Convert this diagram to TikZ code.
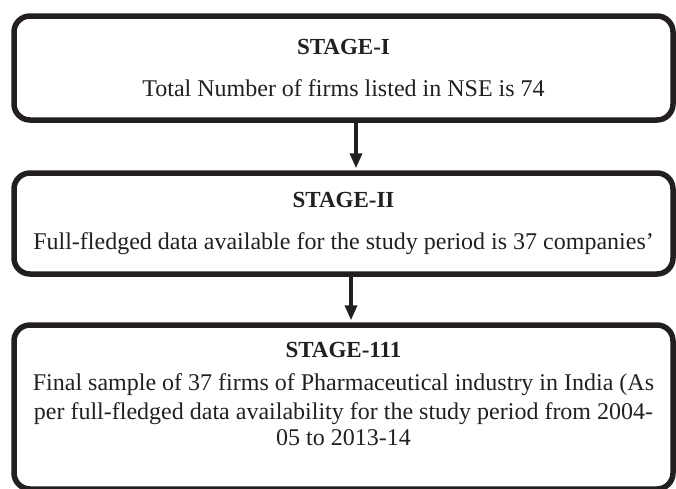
\documentclass[tikz,border=0pt]{standalone}
\usepackage{fontspec}
\setmainfont{Liberation Serif}
\usepackage{tikz}
\usetikzlibrary{arrows.meta,calc}
\definecolor{inkline}{RGB}{35,31,32}

\tikzset{
  stagebox/.style={draw=inkline, line width=5.5pt, rounded corners=16pt,
    minimum width=659pt, align=center, inner sep=0pt, text=inkline,
    font=\fontsize{24}{29}\selectfont},
  stagearrow/.style={draw=inkline, line width=3.5pt,
    -{Triangle[length=15pt,width=12pt]}, shorten >=2pt}
}
\newcommand{\stagetitle}[1]{{\fontsize{23}{28}\selectfont\bfseries #1}}

\begin{document}
\begin{tikzpicture}[x=1pt,y=-1pt]
\useasboundingbox (0,0) rectangle (676,488);
\clip (0,0) rectangle (676,488);
\node[stagebox, minimum height=104pt] (s1) at (343.5,68) {
\stagetitle{STAGE-I}\\[13pt]
Total Number of firms listed in NSE is 74};
\node[stagebox, minimum height=101pt] (s2) at (343.5,223.5) {
\stagetitle{STAGE-II}\\[13pt]
Full-fledged data available for the study period is 37 companies'};
\node[stagebox, minimum height=164pt, text depth=26pt] (s3) at (343.5,407) {
\stagetitle{STAGE-111}\\[4pt]
Final sample of 37 firms of Pharmaceutical industry in India (As\\
per full-fledged data availability for the study period from 2004-\\[-3pt]
05 to 2013-14};
\draw[stagearrow] ([xshift=12.5pt]s1.south) -- ([xshift=12.5pt]s2.north);
\draw[stagearrow] ([xshift=7.5pt]s2.south) -- ([xshift=7.5pt]s3.north);
\end{tikzpicture}
\end{document}
